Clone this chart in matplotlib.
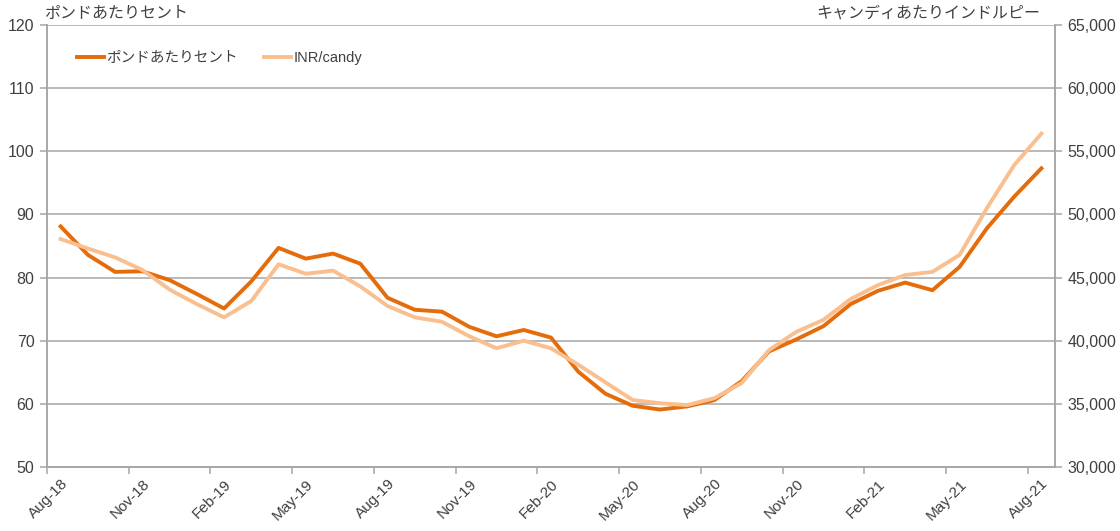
import matplotlib
matplotlib.use("Agg")
import matplotlib.pyplot as plt
import numpy as np

months = ["Aug-18", "Sep-18", "Oct-18", "Nov-18", "Dec-18", "Jan-19", "Feb-19", "Mar-19", "Apr-19",
          "May-19", "Jun-19", "Jul-19", "Aug-19", "Sep-19", "Oct-19", "Nov-19", "Dec-19", "Jan-20",
          "Feb-20", "Mar-20", "Apr-20", "May-20", "Jun-20", "Jul-20", "Aug-20", "Sep-20", "Oct-20",
          "Nov-20", "Dec-20", "Jan-21", "Feb-21", "Mar-21", "Apr-21", "May-21", "Jun-21", "Jul-21",
          "Aug-21"]

cents_per_lb = [88.1, 83.6, 80.9, 81.0, 79.6, 77.4, 75.1, 79.4, 84.7, 83.0, 83.8, 82.2, 76.8,
                74.9, 74.6, 72.2, 70.7, 71.7, 70.5, 65.1, 61.6, 59.7, 59.1, 59.6, 60.6, 63.6,
                68.3, 70.2, 72.3, 75.8, 77.9, 79.2, 78.0, 81.7, 87.8, 92.8, 97.3]

inr_per_candy = [48050, 47300, 46600, 45600, 44050, 42900, 41850, 43150, 46050, 45300, 45550,
                 44300, 42750, 41850, 41500, 40350, 39400, 40000, 39400, 38100, 36700, 35300,
                 35050, 34900, 35450, 36650, 39250, 40700, 41650, 43300, 44400, 45200, 45450,
                 46800, 50500, 53900, 56400]

left_ticks = [50, 60, 70, 80, 90, 100, 110, 120]
right_ticks = [30000, 35000, 40000, 45000, 50000, 55000, 60000, 65000]

label_left = "ポンドあたりセント"
label_right = "キャンディあたりインドルピー"
series_names = ["ポンドあたりセント", "INR/candy"]

c_dark = "#E46C0A"
c_light = "#FABF8F"
txt = "#404040"
grid_c = "#A6A6A6"

plt.rcParams['font.family'] = ['Liberation Sans', 'Noto Sans CJK JP', 'DejaVu Sans']

fig = plt.figure(figsize=(11.2, 5.31), dpi=100)
ax = fig.add_axes([47/1120, 1-467/531, (1055-47)/1120, (467-25)/531])
ax2 = ax.twinx()

x = np.arange(len(months))
ax.plot(x, cents_per_lb, color=c_dark, lw=2.8, solid_joinstyle='round', label=series_names[0])
ax2.plot(x, inr_per_candy, color=c_light, lw=2.8, solid_joinstyle='round', label=series_names[1])

ax.set_xlim(-0.5, len(months) - 0.5)
ax.set_ylim(50, 120)
ax2.set_ylim(30000, 65000)

ax.set_yticks(left_ticks)
ax.set_yticklabels([str(v) for v in left_ticks])
ax2.set_yticks(right_ticks)
ax2.set_yticklabels([f"{v:,}" for v in right_ticks])

ax.yaxis.grid(True, color=grid_c, lw=1.1)
ax.set_axisbelow(True)

# x ticks: marks at category boundaries, labels at every third category
ax.set_xticks(np.arange(-0.5, len(months), 3), minor=False)
ax.set_xticklabels([])
ax.set_xticks(x[::3], minor=True)
ax.set_xticklabels([months[i] for i in x[::3]], minor=True, rotation=45, ha='right', va='top',
                   rotation_mode='anchor')
ax.tick_params(axis='x', which='minor', length=0, pad=7, labelsize=11, labelcolor=txt)
ax.tick_params(axis='x', which='major', length=5, color=grid_c, width=1.1)
ax.tick_params(axis='y', length=5, color=grid_c, width=1.1, labelsize=11.5, labelcolor=txt, pad=4)
ax2.tick_params(axis='y', length=5, color=grid_c, width=1.1, labelsize=11.5, labelcolor=txt, pad=4)

for a in (ax, ax2):
    a.spines['top'].set_visible(False)
    for s in ('left', 'right', 'bottom'):
        a.spines[s].set_color(grid_c)
        a.spines[s].set_linewidth(1.1)

fig.text(44/1120, 1-13/531, label_left, ha='left', va='center', fontsize=11.5, color=txt,
         family=['Noto Sans CJK JP', 'DejaVu Sans'])
fig.text(1040/1120, 1-13/531, label_right, ha='right', va='center', fontsize=11.5, color=txt,
         family=['Noto Sans CJK JP', 'DejaVu Sans'])

h1, l1 = ax.get_legend_handles_labels()
h2, l2 = ax2.get_legend_handles_labels()
leg = ax.legend(h1 + h2, l1 + l2, loc='center left', bbox_to_anchor=(0.03, 0.925), ncol=2,
                frameon=False, handlelength=1.85, handletextpad=0.15, columnspacing=1.8,
                borderaxespad=0, borderpad=0,
                prop={'family': ['Liberation Sans', 'Noto Sans CJK JP', 'DejaVu Sans'], 'size': 10.5})
for t in leg.get_texts():
    t.set_color(txt)

fig.savefig("out.png", dpi=100)
